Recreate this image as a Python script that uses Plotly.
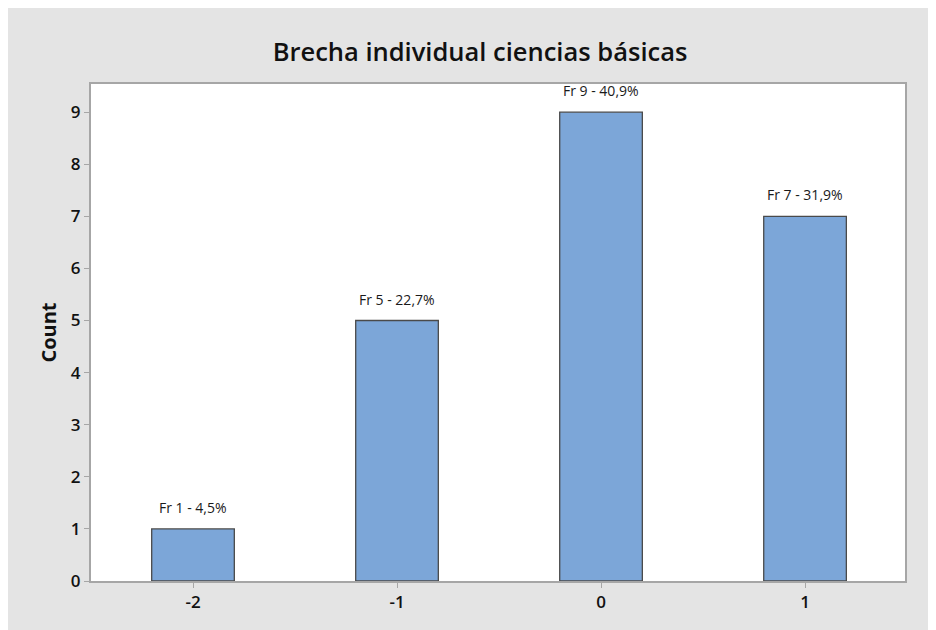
import plotly.graph_objects as go

categories = [-2, -1, 0, 1]
counts = [1, 5, 9, 7]
labels = ["Fr 1 - 4,5%", "Fr 5 - 22,7%", "Fr 9 - 40,9%", "Fr 7 - 31,9%"]
y_ticks = [0, 1, 2, 3, 4, 5, 6, 7, 8, 9]

W, H = 936, 630
# plot-area edges in figure pixels (page has an 8px body margin)
L, R, T, B = 83, 897, 76, 573

font = "Open Sans, Noto Sans, sans-serif"

fig = go.Figure()
fig.add_trace(go.Bar(
    x=categories, y=counts, width=0.405,
    marker=dict(color="#7ca6d8", line=dict(color="#4a4a4a", width=1.3)),
    hoverinfo="skip",
))

for c, v, t in zip(categories, counts, labels):
    fig.add_annotation(x=c, y=v, text=t, showarrow=False, yanchor="bottom",
                       yshift=10, font=dict(size=14, color="#1a1a1a", family=font))

fig.update_layout(
    width=W, height=H,
    margin=dict(l=L, r=W - R, t=T, b=H - B, pad=0),
    paper_bgcolor="#e4e4e4", plot_bgcolor="white",
    showlegend=False,
    title=dict(text="Brecha individual ciencias básicas", x=472 / W, xanchor="center",
               y=1 - 44 / H, yanchor="middle",
               font=dict(size=25.5, color="#111111", family=font, weight=600)),
    xaxis=dict(range=[-2.5, 1.49], tickvals=categories,
               ticktext=[str(c) for c in categories],
               showgrid=False, zeroline=False, showline=True, linecolor="#a6a6a6", linewidth=2,
               mirror=True, ticks="outside", ticklen=5, tickcolor="#a6a6a6",
               tickfont=dict(size=17, color="#111111", family=font, weight=600)),
    yaxis=dict(range=[0, 9.54], tickvals=y_ticks,
               showgrid=False, zeroline=False, showline=True, linecolor="#a6a6a6", linewidth=2,
               mirror=True, ticks="outside", ticklen=5, tickcolor="#a6a6a6",
               tickfont=dict(size=17, color="#111111", family=font, weight=600),
               title=dict(text="<b>Count</b>", font=dict(size=20, color="#111111", family=font),
                          standoff=9)),
)

fig.write_html("out.html")
